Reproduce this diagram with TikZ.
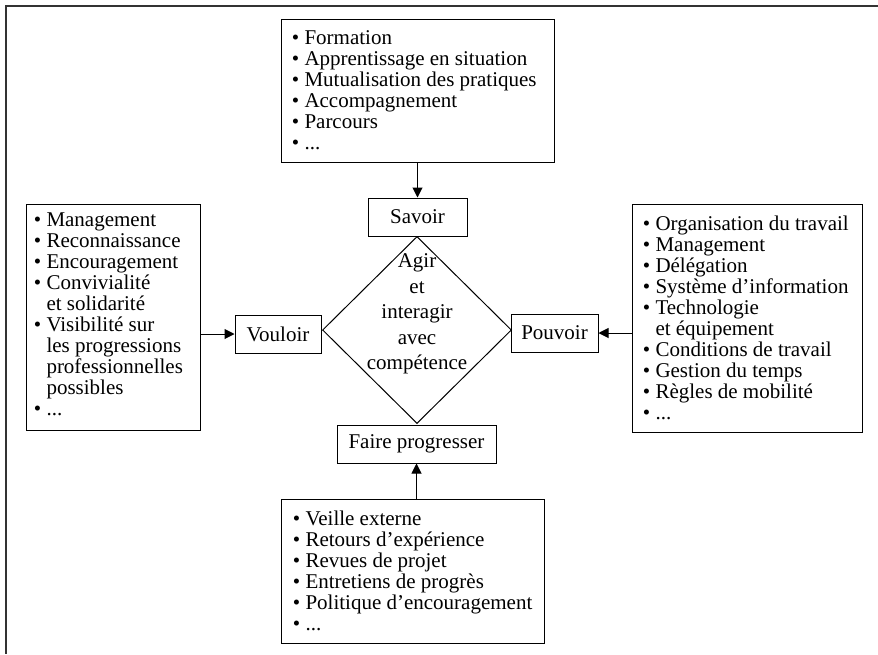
\documentclass[tikz,border=0pt]{standalone}
\usepackage{fontspec}
\setmainfont{Liberation Serif}
\usetikzlibrary{shapes.geometric,arrows.meta,calc}
\newcommand{\bul}{•\ }
\newcommand{\cont}{\phantom{•\ }}
\begin{document}
\begin{tikzpicture}[x=0.5pt,y=-0.5pt,
  frame/.style={line width=0.8pt, draw=black!80},
  box/.style={draw, line width=0.5pt, inner sep=0pt, minimum width=#1, minimum height=19pt, font=\fontsize{10.5}{10.5}\selectfont},
  listbox/.style 2 args={draw, line width=0.5pt, inner sep=0pt, minimum width=#1, minimum height=#2},
  listtext/.style={anchor=west, align=left, inner sep=0pt, font=\fontsize{10.5}{10.5}\selectfont},
  arr/.style={line width=0.5pt, -{Triangle[length=5pt,width=5pt]}}
]
\useasboundingbox (0,0) rectangle (878,654);

% open frame (top and left sides)
\draw[frame] (878,6) -- (6,6) -- (6,654);

% central diamond and its text
\node[diamond, draw, line width=0.5pt, inner sep=0pt, minimum width=94.5pt, minimum height=93.5pt] (core) at (417,330) {};
\node[align=center, inner sep=0pt, font=\fontsize{10.5}{12.7}\selectfont] (coretext) at (417,314) {Agir\\et\\interagir\\avec\\compétence};

% the four levers
\node[box=49.5pt] (savoir) at (417.5,217) {Savoir};
\node[box=43pt] (vouloir) at (278,334) {Vouloir};
\node[box=43.5pt] (pouvoir) at (554.5,333) {Pouvoir};
\node[box=79.5pt] (faire) at (416.5,444) {Faire progresser};

% list boxes
\node[listbox={136.5pt}{71.5pt}] (topbox) at (417.5,90.5) {};
\node[listtext] (toplist) at ($(topbox.west)+(11,0)$) {\bul Formation\\\bul Apprentissage en situation\\\bul Mutualisation des pratiques\\\bul Accompagnement\\\bul Parcours\\\bul ...};

\node[listbox={87pt}{113pt}] (leftbox) at (113,317) {};
\node[listtext] (leftlist) at ($(leftbox.west)+(8,-3)$) {\bul Management\\\bul Reconnaissance\\\bul Encouragement\\\bul Convivialité\\\cont et solidarité\\\bul Visibilité sur\\\cont les progressions\\\cont professionnelles\\\cont possibles\\\bul ...};

\node[listbox={115pt}{114pt}] (rightbox) at (747,318) {};
\node[listtext] (rightlist) at ($(rightbox.west)+(11,0)$) {\bul Organisation du travail\\\bul Management\\\bul Délégation\\\bul Système d’information\\\bul Technologie\\\cont et équipement\\\bul Conditions de travail\\\bul Gestion du temps\\\bul Règles de mobilité\\\bul ...};

\node[listbox={131.5pt}{72pt}] (bottombox) at (412.5,571) {};
\node[listtext] (bottomlist) at ($(bottombox.west)+(12,0)$) {\bul Veille externe\\\bul Retours d’expérience\\\bul Revues de projet\\\bul Entretiens de progrès\\\bul Politique d’encouragement\\\bul ...};

% arrows into the levers
\draw[arr] (topbox.south -| savoir.north) -- (savoir.north);
\draw[arr] (leftbox.east |- vouloir.west) -- (vouloir.west);
\draw[arr] (rightbox.west |- pouvoir.east) -- (pouvoir.east);
\draw[arr] (bottombox.north -| faire.south) -- (faire.south);
\end{tikzpicture}
\end{document}
